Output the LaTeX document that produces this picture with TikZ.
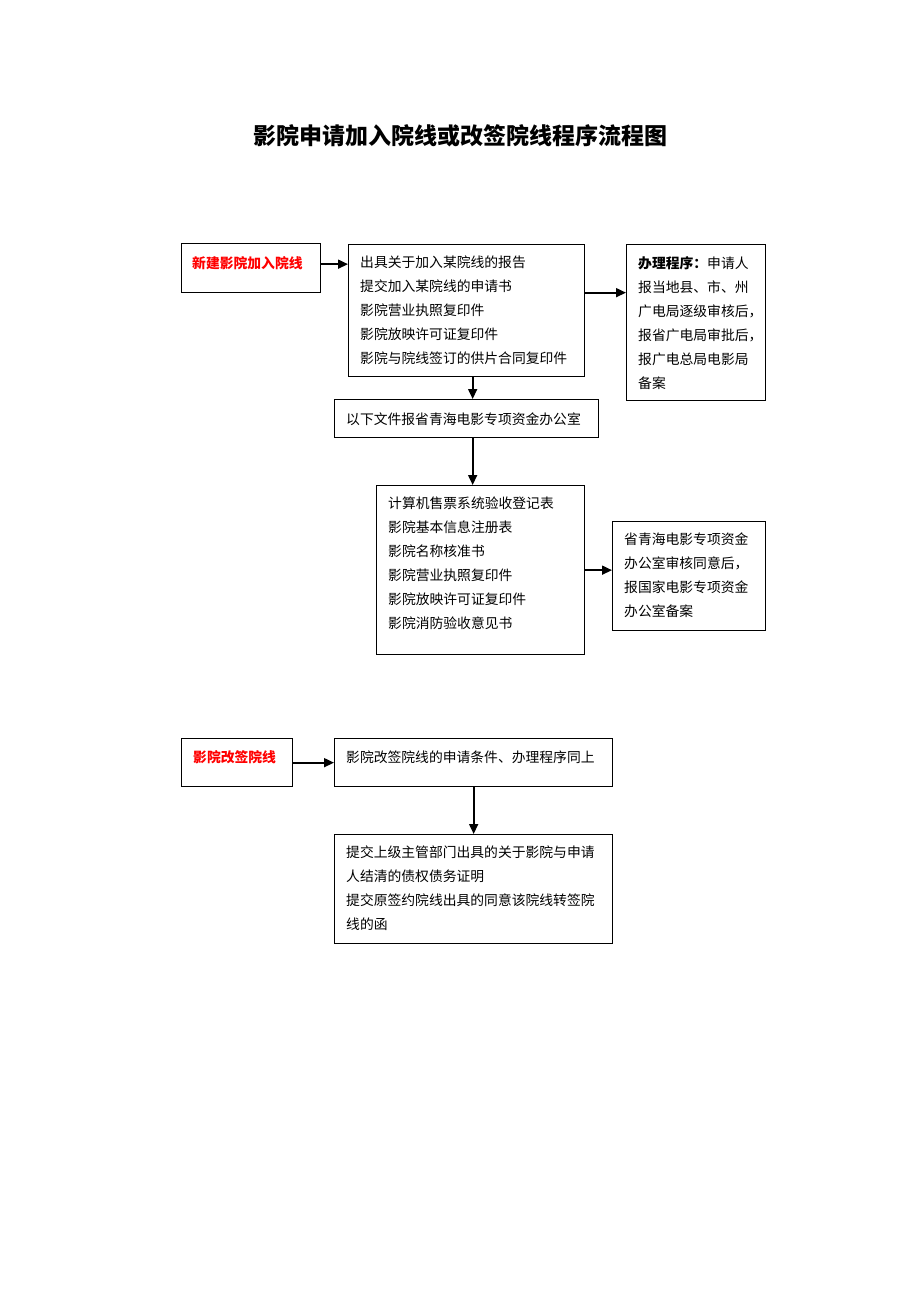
\documentclass[tikz,border=0pt]{standalone}
\usepackage{fontspec}
\setmainfont{Noto Sans CJK SC}
\usetikzlibrary{arrows.meta}
\begin{document}
\begin{tikzpicture}[x=1pt,y=-1pt,
  box/.style={draw,line width=1.3pt,anchor=north west,inner sep=0pt},
  txt/.style={anchor=west,align=left,inner sep=0pt,font=\fontsize{13.8}{24}\selectfont},
  arr/.style={-{Triangle[length=10pt,width=9pt]},line width=1.7pt}]
\useasboundingbox (0,0) rectangle (920,1302);
\fill[white] (0,0) rectangle (920,1302);

\node[font=\fontsize{23}{23}\selectfont\bfseries] (title) at (460,136) {影院申请加入院线或改签院线程序流程图};

% boxes
\node[box,minimum width=139pt,minimum height=49pt] (a) at (181,243) {};
\node[box,minimum width=236pt,minimum height=132pt] (b) at (348,244) {};
\node[box,minimum width=139pt,minimum height=156pt] (c) at (626,244) {};
\node[box,minimum width=264pt,minimum height=38pt] (d) at (334,399) {};
\node[box,minimum width=208pt,minimum height=169pt] (e) at (376,485) {};
\node[box,minimum width=153pt,minimum height=109pt] (f) at (612,521) {};
\node[box,minimum width=111pt,minimum height=48pt] (g) at (181,738) {};
\node[box,minimum width=278pt,minimum height=48pt] (h) at (334,738) {};
\node[box,minimum width=278pt,minimum height=109pt] (i) at (334,834) {};

% texts
\node[txt,text=red,font=\fontsize{13.8}{24}\selectfont\bfseries] (at) at (192,263) {新建影院加入院线};
\node[txt] (bt) at (360,310.5) {出具关于加入某院线的报告\\提交加入某院线的申请书\\影院营业执照复印件\\影院放映许可证复印件\\影院与院线签订的供片合同复印件};
\node[txt] (ct) at (638,323) {\textbf{办理程序：}申请人\\报当地县、市、州\\广电局逐级审核后，\\报省广电局审批后，\\报广电总局电影局\\备案};
\node[txt] (dt) at (346,419) {以下文件报省青海电影专项资金办公室};
\node[txt] (et) at (388,563.5) {计算机售票系统验收登记表\\影院基本信息注册表\\影院名称核准书\\影院营业执照复印件\\影院放映许可证复印件\\影院消防验收意见书};
\node[txt] (ft) at (624,575) {省青海电影专项资金\\办公室审核同意后，\\报国家电影专项资金\\办公室备案};
\node[txt,text=red,font=\fontsize{13.8}{24}\selectfont\bfseries] (gt) at (193,757) {影院改签院线};
\node[txt] (ht) at (346,757) {影院改签院线的申请条件、办理程序同上};
\node[txt] (it) at (346,888.5) {提交上级主管部门出具的关于影院与申请\\人结清的债权债务证明\\提交原签约院线出具的同意该院线转签院\\线的函};

% arrows
\draw[arr] ([yshift=4pt]a.east) -- ([yshift=4pt]a.east -| b.west);
\draw[arr] ([yshift=18pt]b.east) -- ([yshift=18pt]b.east -| c.west);
\draw[arr] ([xshift=6pt]b.south) -- ([xshift=6pt]b.south |- d.north);
\draw[arr] ([xshift=6pt]d.south) -- ([xshift=6pt]d.south |- e.north);
\draw[arr] (e.east) -- (e.east -| f.west);
\draw[arr] (g.east) -- (g.east -| h.west);
\draw[arr] (h.south) -- (i.north);
\end{tikzpicture}
\end{document}
